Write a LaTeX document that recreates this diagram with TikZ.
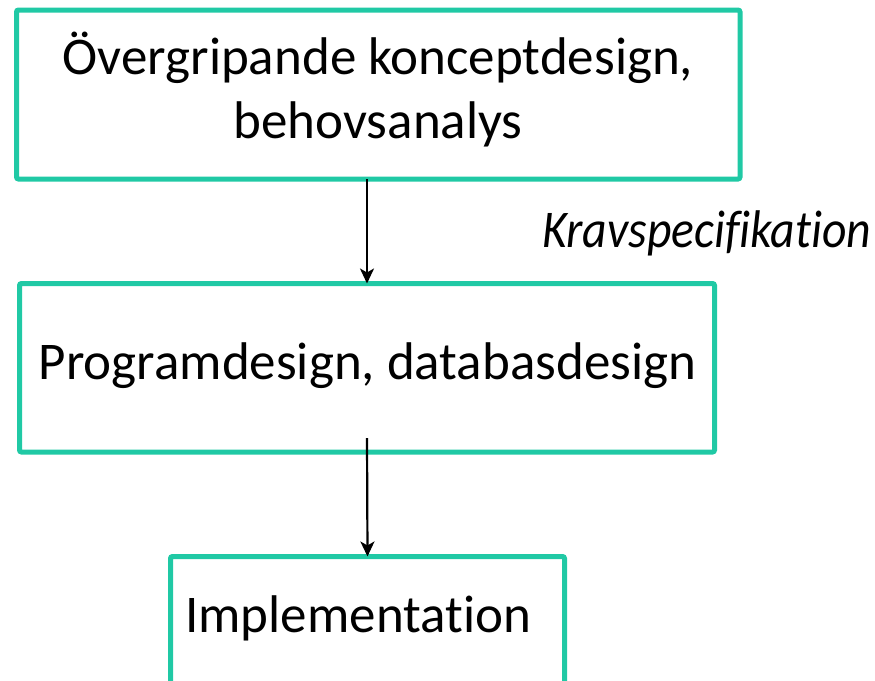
\documentclass[tikz,border=0pt]{standalone}
\usepackage{fontspec}
\setmainfont{Carlito}[Ligatures={NoCommon}]
\newfontfamily\kravfont{Carlito}[Ligatures={NoCommon}, UprightFont=*-Italic, FakeStretch=0.9]
\usetikzlibrary{arrows.meta}
\definecolor{boxteal}{RGB}{32,201,165}
\tikzset{
  box/.style={draw=boxteal, line width=5pt, rounded corners=2pt, rectangle, outer sep=0pt, inner sep=0pt, fill=none},
  lbl/.style={font=\fontsize{53}{64}\selectfont, inner sep=0pt, anchor=base},
  ilbl/.style={font=\fontsize{53}{64}\selectfont\kravfont, inner sep=0pt, anchor=base west},
  flow/.style={line width=2.2pt, -{Stealth[length=15pt,width=14pt,inset=4pt]}}
}
\begin{document}
\begin{tikzpicture}[x=1pt,y=-1pt]
\useasboundingbox (0,0) rectangle (875,680);
\clip (0,0) rectangle (875,680);
\node[box, minimum width=723.5pt, minimum height=169pt] (b1) at (378.25,94.5) {};
\node[box, minimum width=695pt, minimum height=168.5pt] (b2) at (367,367.75) {};
\node[box, minimum width=394pt, minimum height=200pt] (b3) at (367.5,656.5) {};
\node[lbl] (t1) at (378,74) {Övergripande konceptdesign,};
\node[lbl] (t2) at (378,138) {behovsanalys};
\node[lbl] (t3) at (367.5,379.5) {Programdesign, databasdesign};
\node[lbl, anchor=base west] (t4) at (185,632) {Implementation};
\node[ilbl] (k) at (542,247) {Kravspecifikation};
\coordinate (a2s) at (367,438);
\draw[flow] (b1.south -| b2.north) -- (b2.north);
\draw[flow] (a2s) -- (b3.north);
\end{tikzpicture}
\end{document}
